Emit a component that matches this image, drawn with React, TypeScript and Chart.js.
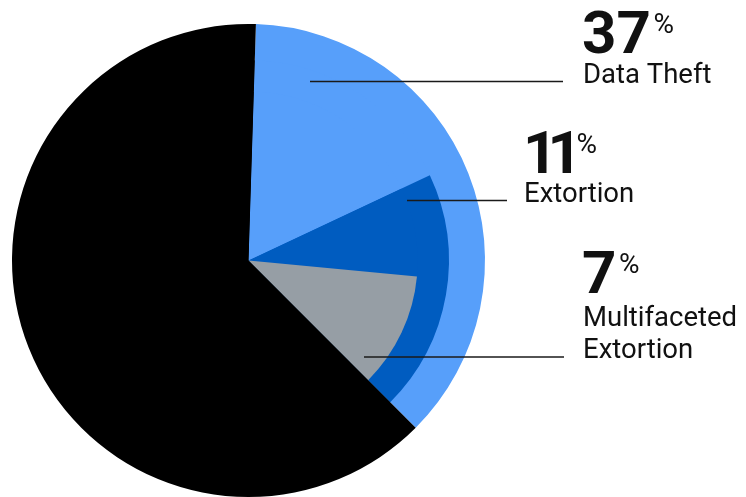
import React, { useEffect, useRef } from 'react';
import { Chart, registerables } from 'chart.js';

Chart.register(...registerables);

// ---- data ----
const categories = ['Data Theft', 'Extortion', 'Multifaceted Extortion'];
const labelPercents = [37, 11, 7];
const labelLines = [['Data Theft'], ['Extortion'], ['Multifaceted', 'Extortion']];
// wedge sizes (percent of full circle) as drawn
const dataTheftWedge = 37;
const extortionWedge = 19.5;
const multifacetedWedge = 11;
const remainderWedge = 63;

const LIGHT = '#579ffa';
const DARK = '#005cc0';
const GRAY = '#969ea5';
const BLACK = '#000000';

// each layer is a full pie, smaller layers drawn on top of bigger ones
const outerLayer = [dataTheftWedge, remainderWedge];
const middleLayer = [dataTheftWedge - extortionWedge, extortionWedge, remainderWedge];
const innerLayer = [
  dataTheftWedge - extortionWedge,
  extortionWedge - multifacetedWedge,
  multifacetedWedge,
  remainderWedge,
];

const labelLayout = [
  { x1: 310, x2: 563, ly: 81.5, x: 582, numBase: 52.7, numSpacing: 0, textBase: [82.7] },
  { x1: 407, x2: 507, ly: 200.5, x: 523, numBase: 172.7, numSpacing: -10, textBase: [201.7] },
  { x1: 364, x2: 564, ly: 357, x: 582, numBase: 292.7, numSpacing: 0, textBase: [326, 358.3] },
];

// let every layer reach the centre so that layers overlap instead of forming rings
const fullWedgePlugin = {
  id: 'fullWedges',
  beforeDatasetsDraw(chart: any) {
    chart.data.datasets.forEach((_: any, i: number) => {
      const meta = chart.getDatasetMeta(i);
      meta.data.forEach((arc: any) => {
        arc.innerRadius = 0;
      });
    });
  },
};

const labelPlugin = {
  id: 'sideLabels',
  afterDraw(chart: any) {
    const ctx = chart.ctx as CanvasRenderingContext2D;
    ctx.save();
    categories.forEach((_, i) => {
      const L = labelLayout[i];
      ctx.strokeStyle = '#1a1a1a';
      ctx.lineWidth = 1.5;
      ctx.beginPath();
      ctx.moveTo(L.x1, L.ly);
      ctx.lineTo(L.x2, L.ly);
      ctx.stroke();

      ctx.fillStyle = '#111111';
      ctx.textBaseline = 'alphabetic';
      ctx.textAlign = 'left';
      ctx.font = 'bold 60px Roboto';
      (ctx as any).letterSpacing = L.numSpacing + 'px';
      const num = String(labelPercents[i]);
      ctx.fillText(num, L.x, L.numBase);
      const m = ctx.measureText(num);
      const inkRight = L.x + m.actualBoundingBoxRight;
      (ctx as any).letterSpacing = '0px';
      ctx.font = '28px Roboto';
      ctx.fillText('%', inkRight + 5, L.numBase - 19.5);

      ctx.font = '27.5px Roboto';
      labelLines[i].forEach((t, j) => {
        ctx.fillText(t, L.x + 1, L.textBase[j]);
      });
    });
    ctx.restore();
  },
};

export default function App() {
  const ref = useRef<HTMLCanvasElement>(null);
  useEffect(() => {
    if (!ref.current) return;
    const chart = new Chart(ref.current, {
      type: 'pie',
      data: {
        labels: ['a', 'b', 'c', 'd'],
        datasets: [
          {
            data: outerLayer,
            backgroundColor: [LIGHT, BLACK],
            weight: 36.1,
            order: 3,
          } as any,
          {
            data: middleLayer,
            backgroundColor: [LIGHT, DARK, BLACK],
            weight: 31.2,
            order: 2,
          },
          {
            data: innerLayer,
            backgroundColor: [LIGHT, DARK, GRAY, BLACK],
            weight: 169.2,
            order: 1,
          },
        ],
      },
      options: {
        responsive: false,
        animation: false,
        rotation: 1.8,
        borderWidth: 0,
        layout: { padding: { left: 12, top: 24, right: 261, bottom: 0 } },
        plugins: { legend: { display: false }, tooltip: { enabled: false } },
        events: [],
      } as any,
      plugins: [fullWedgePlugin, labelPlugin],
    });
    return () => chart.destroy();
  }, []);
  return (
    <div style={{ position: 'absolute', left: 0, top: 0, width: 746, height: 497, background: '#fff' }}>
      <canvas ref={ref} width={746} height={497} style={{ display: 'block' }} />
    </div>
  );
}
